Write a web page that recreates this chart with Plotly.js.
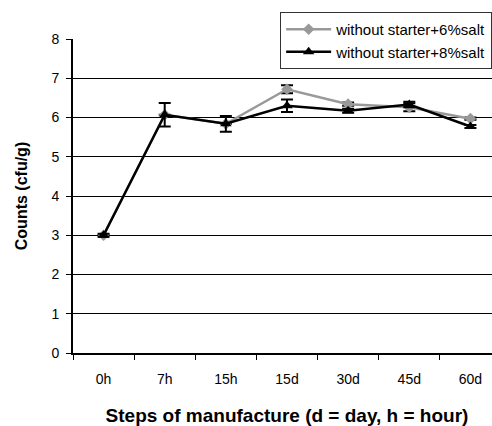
<!DOCTYPE html>
<html>
<head>
<meta charset="utf-8">
<script src="https://cdn.plot.ly/plotly-3.0.1.min.js"></script>
<style>
html,body{margin:0;padding:0;overflow:hidden;background:#fff;}
#chart{width:520px;height:426px;}
</style>
</head>
<body>
<div id="chart"></div>
<script>
const categories = ["0h", "7h", "15h", "15d", "30d", "45d", "60d"];
const salt6 = [3.0, 6.07, 5.84, 6.72, 6.34, 6.26, 5.97];
const salt6Err = [0, 0, 0, 0.1, 0.04, 0.1, 0.03];
const salt8 = [3.0, 6.07, 5.84, 6.30, 6.17, 6.33, 5.77];
const salt8Err = [0.04, 0.3, 0.2, 0.16, 0.05, 0.07, 0.04];
const yTicks = [0, 1, 2, 3, 4, 5, 6, 7, 8];

const font = "Liberation Sans, Arial, sans-serif";

const traces = [
  {
    x: categories, y: salt6, type: "scatter", mode: "lines+markers",
    name: "without starter+6%salt",
    line: {color: "#999999", width: 2.5},
    marker: {symbol: "diamond", size: 9, color: "#999999"},
    error_y: {type: "data", array: salt6Err, visible: true, color: "#000", thickness: 2, width: 6}
  },
  {
    x: categories, y: salt8, type: "scatter", mode: "lines+markers",
    name: "without starter+8%salt",
    line: {color: "#000000", width: 2.5},
    marker: {symbol: "triangle-up", size: 10, color: "#000000"},
    error_y: {type: "data", array: salt8Err, visible: true, color: "#000", thickness: 2, width: 6}
  }
];

const layout = {
  width: 520, height: 426,
  margin: {l: 73, r: 19, t: 39, b: 73, autoexpand: false},
  paper_bgcolor: "#fff", plot_bgcolor: "#fff",
  font: {family: font, color: "#000", size: 13},
  showlegend: true,
  legend: {
    x: 0.484, y: 1.086, xanchor: "left", yanchor: "top",
    bgcolor: "#fff", bordercolor: "#333", borderwidth: 1,
    font: {family: font, size: 15, color: "#000"},
    itemwidth: 45,
    tracegroupgap: 0
  },
  xaxis: {
    type: "category", range: [-0.5, 6.5],
    tickvals: categories, ticktext: categories,
    showgrid: false, zeroline: false,
    showline: true, linecolor: "#000", linewidth: 2,
    ticks: "outside", tickson: "boundaries", ticklen: 5, tickcolor: "#000", tickwidth: 1,
    ticklabelstandoff: 12,
    tickfont: {family: font, size: 14, color: "#000"},
    title: {text: "<b>Steps of manufacture (d = day, h = hour)</b>", font: {family: font, size: 19, color: "#000"}, standoff: 27}
  },
  yaxis: {
    range: [0, 8], tickvals: yTicks, ticktext: yTicks.map(String),
    showgrid: true, gridcolor: "#000", gridwidth: 1,
    zeroline: false,
    showline: true, linecolor: "#000", linewidth: 2,
    ticks: "outside", ticklen: 5, tickcolor: "#000", tickwidth: 1,
    ticklabelstandoff: 4,
    tickfont: {family: font, size: 14, color: "#000"},
    title: {text: "<b>Counts (cfu/g)</b>", font: {family: font, size: 16, color: "#000"}, standoff: 20}
  }
};

Plotly.newPlot("chart", traces, layout, {displayModeBar: false, staticPlot: true});
</script>
</body>
</html>
